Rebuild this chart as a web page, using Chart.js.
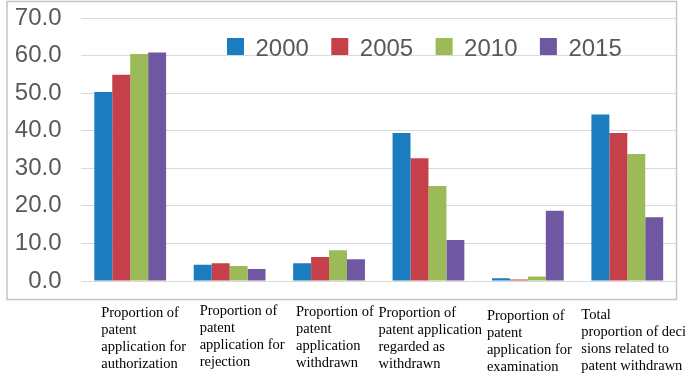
<!DOCTYPE html>
<html>
<head>
<meta charset="utf-8">
<script src="https://cdn.jsdelivr.net/npm/chart.js@4/dist/chart.umd.min.js"></script>
<style>
  html, body { margin: 0; padding: 0; background: #fff; }
  #wrap { width: 685px; height: 374px; }
</style>
</head>
<body>
<div id="wrap"><canvas id="chart" width="685" height="374"></canvas></div>
<script>
// data
const categories = [
  ['Proportion of', 'patent', 'application for', 'authorization'],
  ['Proportion of', 'patent', 'application for', 'rejection'],
  ['Proportion of', 'patent', 'application', 'withdrawn'],
  ['Proportion of', 'patent application', 'regarded as', 'withdrawn'],
  ['Proportion of', 'patent', 'application for', 'examination'],
  ['Total', 'proportion of deci', 'sions related to', 'patent withdrawn']
];
const years = ['2000', '2005', '2010', '2015'];
const v2000 = [50.3, 4.3, 4.7, 39.4, 0.7, 44.3];
const v2005 = [54.9, 4.7, 6.4, 32.7, 0.4, 39.4];
const v2010 = [60.4, 4.0, 8.2, 25.3, 1.2, 33.8];
const v2015 = [60.8, 3.2, 5.8, 10.9, 18.7, 17.0];
const yTicks = [0, 10, 20, 30, 40, 50, 60, 70];

const colors = ['#1B7CC0', '#C6404A', '#9BBB59', '#6F58A1'];
const series = [v2000, v2005, v2010, v2015];

// where each category caption sits, relative to its category centre
const capDx = [-29, -30, -33, -50, -41, -46];
const capBase = [317, 315, 316, 317, 319.5, 318.5];

const framePlugin = {
  id: 'frame',
  afterDraw(chart) {
    const ctx = chart.ctx;
    ctx.save();
    // box round the plot
    ctx.strokeStyle = '#C4C4C4';
    ctx.lineWidth = 1.5;
    ctx.strokeRect(7, 1.5, 669.5, 298);

    // legend inside the plot
    ctx.font = '24px "Liberation Sans", Arial, sans-serif';
    ctx.textBaseline = 'alphabetic';
    chart.data.datasets.forEach((ds, i) => {
      const x = 227 + i * 104.3;
      ctx.fillStyle = ds.backgroundColor;
      ctx.fillRect(x, 38, 17, 17);
      ctx.fillStyle = '#595959';
      ctx.fillText(ds.label, x + 28.5, 56);
    });

    // category captions under the box
    const xs = chart.scales.x;
    ctx.fillStyle = '#000';
    ctx.font = '14.5px "Liberation Serif", "Times New Roman", serif';
    chart.data.labels.forEach((lines, i) => {
      const x0 = xs.getPixelForValue(i) + capDx[i];
      lines.forEach((t, k) => ctx.fillText(t, x0, capBase[i] + k * 17));
    });
    ctx.restore();
  }
};

new Chart(document.getElementById('chart'), {
  type: 'bar',
  data: {
    labels: categories,
    datasets: years.map((y, i) => ({
      label: y,
      data: series[i],
      backgroundColor: colors[i],
      borderWidth: 0,
      barPercentage: 1,
      categoryPercentage: 0.722
    }))
  },
  options: {
    responsive: false,
    animation: false,
    devicePixelRatio: 1,
    layout: { padding: { left: 7, top: 18, right: 8, bottom: 93 } },
    plugins: { legend: { display: false }, tooltip: { enabled: false } },
    scales: {
      x: { display: false, grid: { display: false } },
      y: {
        min: 0, max: 70,
        afterFit: (s) => { s.width = 73.5; },
        afterBuildTicks: (s) => { s.ticks = yTicks.map(v => ({ value: v })); },
        border: { display: false },
        grid: { color: '#D9D9D9', lineWidth: 1, drawTicks: true, tickLength: 19, tickColor: 'rgba(0,0,0,0)' },
        ticks: {
          padding: 0,
          color: '#595959',
          font: { family: '"Liberation Sans", Arial, sans-serif', size: 24 },
          callback: (v) => Number(v).toFixed(1)
        }
      }
    }
  },
  plugins: [framePlugin]
});
</script>
</body>
</html>
